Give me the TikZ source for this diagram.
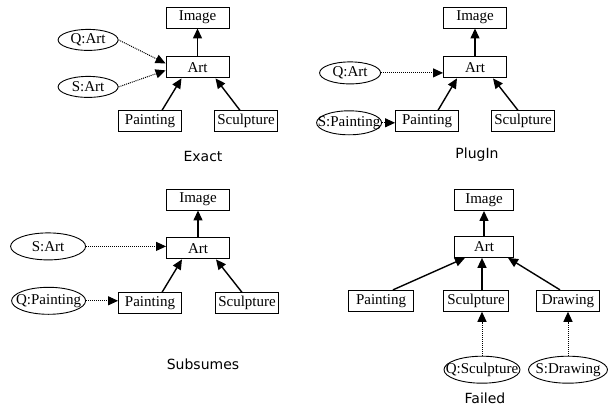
\documentclass[tikz,border=0pt]{standalone}
\usepackage{fontspec}
\setmainfont{Liberation Serif}
\newfontfamily\capfont{DejaVu Sans}
\usetikzlibrary{positioning,shapes.geometric,arrows.meta}
\newcommand{\elab}[1]{\makebox[0pt]{#1}}

\begin{document}
\begin{tikzpicture}[x=1pt,y=-1pt,
    font=\fontsize{15}{17}\selectfont,
    box/.style={draw, line width=0.9pt, minimum width=63pt, minimum height=21pt, inner sep=1pt},
    oval/.style={draw, ellipse, line width=0.9pt, inner sep=0pt},
    isa/.style={line width=1.4pt, -{Triangle[length=10pt,width=9pt]}},
    match/.style={line width=1pt, densely dotted, -{Triangle[length=10pt,width=9pt]}},
    caption/.style={font=\capfont\fontsize{14}{16}\selectfont}]
  \useasboundingbox (0,0) rectangle (614,407);

  % Exact
  \node (img1) [box] at (197.5,17.5) {Image};
  \node (art1) [box, below=28pt of img1] {Art};
  \node (paint1) [box, below=32pt of art1, xshift=-47.5pt] {Painting};
  \node (sculp1) [box, below=32pt of art1, xshift=48.5pt] {Sculpture};
  \node (qart1) [oval, minimum width=60pt, minimum height=21pt, left=47pt of art1, yshift=27.5pt] {\elab{Q:Art}};
  \node (sart1) [oval, minimum width=60pt, minimum height=21pt, left=47pt of art1, yshift=-19.5pt] {\elab{S:Art}};
  \node (lab1) [caption] at (203,156) {Exact};
  \draw [isa] (art1) -- (img1);
  \draw [isa] ([xshift=12pt]paint1.north) -- ([xshift=-16pt]art1.south);
  \draw [isa] ([xshift=-6pt]sculp1.north) -- ([xshift=18pt]art1.south);
  \draw [match] (qart1.east) -- ([yshift=4pt]art1.west);
  \draw [match] (sart1.east) -- ([yshift=-3pt]art1.west);

  % PlugIn
  \node (img2) [box] at (475,17.5) {Image};
  \node (art2) [box, below=28pt of img2] {Art};
  \node (paint2) [box, below=32pt of art2, xshift=-48pt] {Painting};
  \node (sculp2) [box, below=32pt of art2, xshift=48pt] {Sculpture};
  \node (qart2) [oval, minimum width=61pt, minimum height=22pt, left=62pt of art2, yshift=-5.5pt] {\elab{Q:Art}};
  \node (spaint2) [oval, minimum width=65pt, minimum height=24pt, left=13pt of paint2, yshift=-1.5pt] {\elab{S:Painting}};
  \node (lab2) [caption] at (477,155) {PlugIn};
  \draw [isa] (art2) -- (img2);
  \draw [isa] ([xshift=11pt]paint2.north) -- ([xshift=-18pt]art2.south);
  \draw [isa] ([xshift=-5pt]sculp2.north) -- ([xshift=18pt]art2.south);
  \draw [match] (qart2.east) -- (qart2 -| art2.west);
  \draw [match] (spaint2.east) -- (spaint2 -| paint2.west);

  % Subsumes
  \node (img3) [box] at (198,199.5) {Image};
  \node (art3) [box, below=27pt of img3] {Art};
  \node (paint3) [box, below=33pt of art3, xshift=-48pt] {Painting};
  \node (sculp3) [box, below=33pt of art3, xshift=49pt] {Sculpture};
  \node (sart3) [oval, minimum width=75pt, minimum height=27pt, left=80pt of art3, yshift=2pt] {\elab{S:Art}};
  \node (qpaint3) [oval, minimum width=74pt, minimum height=27pt, left=32pt of paint3, yshift=2.5pt] {\elab{Q:Painting}};
  \node (lab3) [caption] at (203,364) {Subsumes};
  \draw [isa] (art3) -- (img3);
  \draw [isa] ([xshift=12pt]paint3.north) -- ([xshift=-16pt]art3.south);
  \draw [isa] ([xshift=-5pt]sculp3.north) -- ([xshift=18pt]art3.south);
  \draw [match] (sart3.east) -- (sart3 -| art3.west);
  \draw [match] (qpaint3.east) -- (qpaint3 -| paint3.west);

  % Failed
  \node (img4) [box, minimum width=59pt] at (484,200) {Image};
  \node (art4) [box, minimum width=59pt, below=25pt of img4] {Art};
  \node (paint4) [box, minimum width=65pt, below=32pt of art4, xshift=-103pt] {Painting};
  \node (sculp4) [box, minimum width=65pt, below=32pt of art4, xshift=-8pt] {Sculpture};
  \node (draw4) [box, below=32pt of art4, xshift=84pt] {Drawing};
  \node (qsculp4) [oval, minimum width=76pt, minimum height=27pt, below=44pt of sculp4, xshift=6pt] {\elab{Q:Sculpture}};
  \node (sdraw4) [oval, minimum width=79pt, minimum height=27pt, below=44pt of draw4] {\elab{S:Drawing}};
  \node (lab4) [caption] at (485,398) {Failed};
  \draw [isa] (art4) -- (img4);
  \draw [isa] ([xshift=12pt]paint4.north) -- ([xshift=-19pt]art4.south);
  \draw [isa] ([xshift=6pt]sculp4.north) -- ([xshift=-2pt]art4.south);
  \draw [isa] ([xshift=-8pt]draw4.north) -- ([xshift=24pt]art4.south);
  \draw [match] (qsculp4) -- (qsculp4 |- sculp4.south);
  \draw [match] (sdraw4) -- (sdraw4 |- draw4.south);
\end{tikzpicture}
\end{document}
